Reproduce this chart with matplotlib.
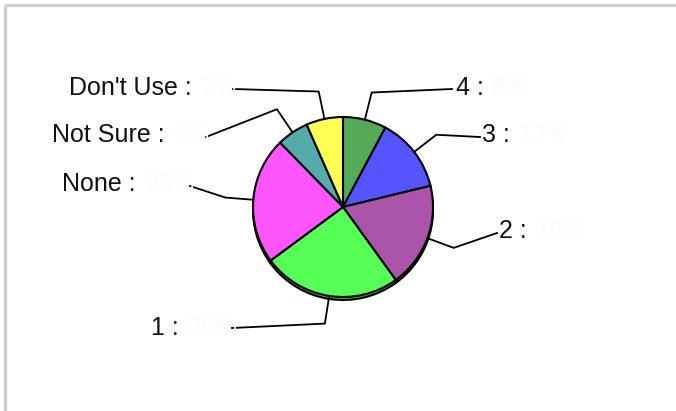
import matplotlib
matplotlib.use("Agg")
import matplotlib.pyplot as plt
import numpy as np

# slices, clockwise from 12 o'clock
labels = ["4", "3", "2", "1", "None", "Not Sure", "Don't Use"]
shares = [7.8, 13.4, 18.8, 24.8, 22.8, 5.7, 6.6]
colors = ["#55aa55", "#5555ff", "#aa55aa", "#55ff55", "#ff55ff", "#55aaaa", "#ffff55"]

# layout (pixel space): where each leader line ends and where its label sits
line_end = [(452, 89), (480, 137), (497, 233), (232, 328), (190, 186), (206, 137), (233, 89)]
label_pos = [(456, 88), (482, 135), (499, 231), (179, 328), (136, 184), (165, 135), (192, 88)]
right_side = [True, True, True, False, False, False, False]

W, H = 676, 411
cx, cy, r = 343, 207, 90

plt.rcParams['font.family'] = ['Liberation Sans', 'DejaVu Sans']
fig = plt.figure(figsize=(W / 100, H / 100), dpi=100)
ax = fig.add_axes([0, 0, 1, 1])

# darker copy underneath gives the thin 3d rim
dark = [tuple(c * 0.75 for c in matplotlib.colors.to_rgb(col)) for col in colors]
ax.pie(shares, colors=dark, startangle=270, counterclock=True, radius=r,
       center=(cx, cy + 3), wedgeprops=dict(edgecolor="black", linewidth=1.5))
wedges, _ = ax.pie(shares, colors=colors, startangle=270, counterclock=True, radius=r,
                   center=(cx, cy), wedgeprops=dict(edgecolor="black", linewidth=1.5))

ax.set_xlim(0, W)
ax.set_ylim(H, 0)
ax.set_aspect("equal")
ax.axis("off")

for i, w in enumerate(wedges):
    mid = np.deg2rad((w.theta1 + w.theta2) / 2)
    p0 = (cx + r * np.cos(mid), cy + r * np.sin(mid))
    p1 = (cx + 118 * np.cos(mid), cy + 118 * np.sin(mid))
    p2 = line_end[i]
    ax.plot([p0[0], p1[0], p2[0]], [p0[1], p1[1], p2[1]], color="black", lw=1.3)

    pct = "%d%%" % round(shares[i])
    t = ax.text(label_pos[i][0], label_pos[i][1], labels[i] + " :",
                ha="left" if right_side[i] else "right",
                va="center", fontsize=18, color="#111111")
    # values are printed almost white, as in the original
    ax.annotate(pct, xy=(1, 0.5), xycoords=t, xytext=(6, 0), textcoords="offset points",
                ha="left", va="center", fontsize=18, color="#fafafa")

# grey frame on top and left only
ax.plot([5, W], [5, 5], color="#d0d0d0", lw=2.4, solid_capstyle="butt")
ax.plot([5, 5], [5, H], color="#d0d0d0", lw=2.4, solid_capstyle="butt")

fig.savefig("out.png", dpi=100)
